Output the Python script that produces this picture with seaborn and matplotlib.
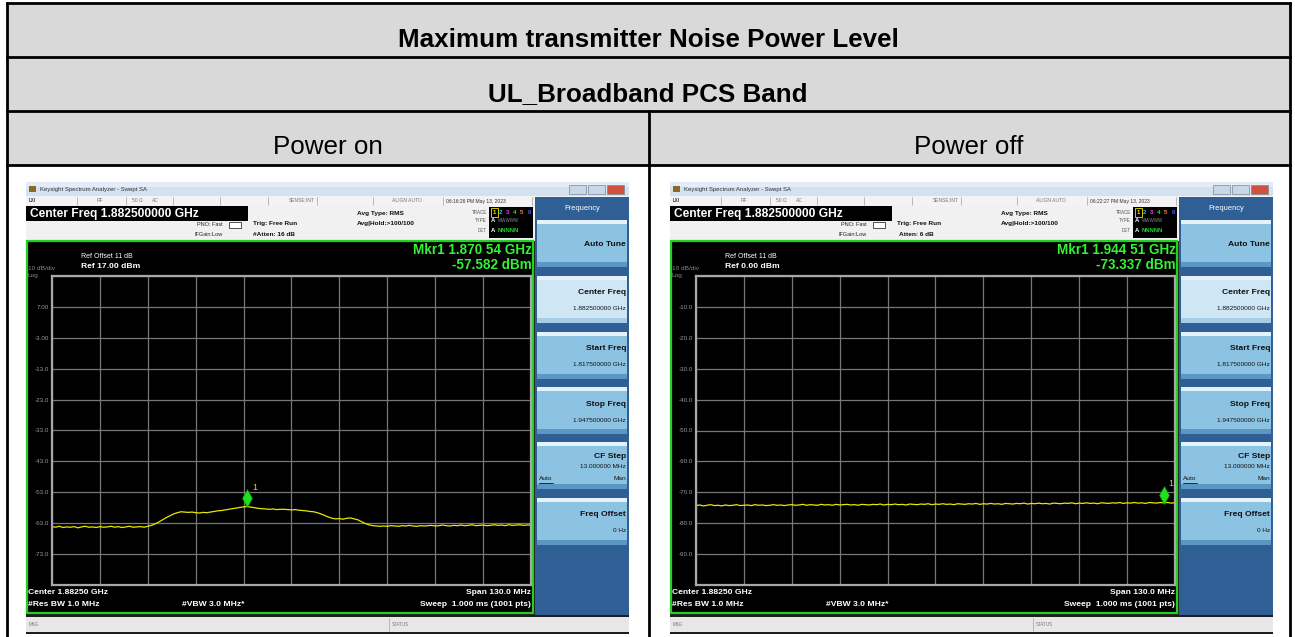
import numpy as np
import matplotlib
matplotlib.use("Agg")
import matplotlib.pyplot as plt
from matplotlib.patches import Rectangle
import seaborn as sns

# ---------------- data ----------------
TABLE_TITLE = "Maximum transmitter Noise Power Level"
BAND_TITLE = "UL_Broadband PCS Band"
COLUMN_LABELS = ["Power on", "Power off"]

START_GHZ = 1.8175
STOP_GHZ = 1.9475
N_TRACE = 131

POWER_ON_DBM = [
    -64.1, -64.3, -64.0, -64.4, -64.2, -64.3, -64.1, -64.5, -64.2, -64.0, -64.3, -64.2, -64.4,
    -64.1, -64.3, -64.2, -64.0, -64.3, -64.1, -64.4, -64.2, -64.0, -64.3, -64.2, -64.1, -64.3,
    -64.0, -63.7, -63.2, -62.6, -61.9, -61.2, -60.6, -60.0, -59.6, -59.3, -59.4, -59.5, -59.4,
    -59.6, -59.7, -59.5, -59.6, -59.4, -59.2, -59.0, -58.9, -58.7, -58.5, -58.3, -58.1, -57.9,
    -57.7, -57.6, -57.8, -58.0, -58.2, -58.3, -58.4, -58.5, -58.4, -58.6, -58.5, -58.5, -58.6,
    -58.7, -58.6, -58.8, -58.9, -59.0, -59.2, -59.3, -59.6, -60.0, -60.5, -61.0, -61.4, -61.6,
    -61.5, -61.7, -61.4, -61.3, -61.6, -61.9, -62.5, -63.1, -63.5, -63.8, -63.9, -64.0, -63.9,
    -64.0, -63.8, -63.9, -64.0, -63.8, -63.9, -63.7, -63.9, -64.0, -63.8, -63.9, -63.8, -63.7,
    -63.9, -63.8, -63.6, -63.8, -63.9, -63.7, -63.8, -63.6, -63.8, -63.7, -63.5, -63.8, -63.7,
    -63.6, -63.8, -63.7, -63.5, -63.7, -63.6, -63.8, -63.5, -63.7, -63.6, -63.5, -63.7, -63.6,
    -63.6,
]

POWER_OFF_DBM = [
    -74.3, -74.1, -74.4, -74.2, -74.0, -74.3, -74.2, -74.4, -74.1, -74.3, -74.2, -74.0, -74.3,
    -74.2, -74.1, -74.3, -74.0, -74.2, -74.1, -74.3, -74.2, -74.0, -74.2, -74.1, -74.3, -74.1,
    -74.0, -74.2, -74.1, -73.9, -74.2, -74.0, -74.1, -74.2, -73.9, -74.1, -74.0, -74.2, -73.9,
    -74.1, -74.0, -73.9, -74.1, -74.0, -74.2, -73.9, -74.0, -74.1, -73.9, -74.0, -73.8, -74.1,
    -73.9, -74.0, -73.8, -74.0, -73.9, -74.1, -73.8, -73.9, -74.0, -73.8, -73.9, -73.7, -74.0,
    -73.8, -73.9, -73.7, -73.9, -73.8, -74.0, -73.7, -73.8, -73.9, -73.7, -73.8, -73.6, -73.9,
    -73.7, -73.8, -73.6, -73.8, -73.7, -73.9, -73.6, -73.7, -73.8, -73.6, -73.7, -73.5, -73.8,
    -73.6, -73.7, -73.5, -73.7, -73.6, -73.8, -73.5, -73.6, -73.7, -73.5, -73.6, -73.4, -73.7,
    -73.5, -73.6, -73.4, -73.6, -73.5, -73.7, -73.4, -73.5, -73.6, -73.4, -73.5, -73.3, -73.6,
    -73.4, -73.5, -73.3, -73.5, -73.4, -73.6, -73.3, -73.4, -73.5, -73.3, -73.4, -73.3, -73.5,
    -73.4,
]

REF_LEVELS = [17.0, 0.0]
MARKER_FREQS = [1.87054, 1.94451]
MARKER_VALUES = [-57.582, -73.337]
MARKER_LINES = [("Mkr1 1.870 54 GHz", "-57.582 dBm"), ("Mkr1 1.944 51 GHz", "-73.337 dBm")]
TIMESTAMPS = ["06:16:26 PM May 13, 2023", "06:22:27 PM May 13, 2023"]
ATTEN_TEXT = ["#Atten: 16 dB", "Atten: 6 dB"]
REF_TEXT = ["Ref 17.00 dBm", "Ref 0.00 dBm"]
Y_LABELS_ON = ["7.00", "-3.00", "-13.0", "-23.0", "-33.0", "-43.0", "-53.0", "-63.0", "-73.0"]
Y_LABELS_OFF = ["-10.0", "-20.0", "-30.0", "-40.0", "-50.0", "-60.0", "-70.0", "-80.0", "-90.0"]

SOFTKEY_LABELS = ["Auto Tune", "Center Freq", "Start Freq", "Stop Freq", "CF Step", "Freq Offset"]
SOFTKEY_VALUES = ["", "1.882500000 GHz", "1.817500000 GHz", "1.947500000 GHz", "13.000000 MHz", "0 Hz"]

# ---------------- figure ----------------
sns.set_style("white")
plt.rcParams["font.family"] = ["Liberation Sans", "DejaVu Sans"]

W, H = 1295, 637
fig = plt.figure(figsize=(W / 100, H / 100), dpi=100)
bg = fig.add_axes([0, 0, 1, 1])
bg.set_xlim(0, W)
bg.set_ylim(H, 0)
bg.axis("off")


def rect(x0, y0, x1, y1, fc, ec="none", lw=0, z=1):
    bg.add_patch(Rectangle((x0, y0), x1 - x0, y1 - y0, facecolor=fc,
                           edgecolor=ec, linewidth=lw, zorder=z))


def txt(x, y, s, px, color="black", weight="normal", ha="left", va="center", z=5, **kw):
    bg.text(x, y, s, fontsize=px * 0.72, color=color, fontweight=weight,
            ha=ha, va=va, zorder=z, **kw)


# table
rect(7, 3, 1290, 165, "#d9d9d9")
for y in (3, 57, 111, 165):
    bg.plot([7, 1290], [y, y], color="black", lw=2, zorder=3, solid_capstyle="projecting")
for x in (7, 1290):
    bg.plot([x, x], [3, H + 2], color="black", lw=2, zorder=3)
bg.plot([649, 649], [111, H + 2], color="black", lw=2, zorder=3)

txt(648, 40, TABLE_TITLE, 26, weight="bold", ha="center")
txt(648, 94, BAND_TITLE, 26, weight="bold", ha="center")
txt(328, 147, COLUMN_LABELS[0], 26, ha="center")
txt(969, 147, COLUMN_LABELS[1], 26, ha="center")

freqs = np.linspace(START_GHZ, STOP_GHZ, N_TRACE)
traces = [POWER_ON_DBM, POWER_OFF_DBM]
ylabel_sets = [Y_LABELS_ON, Y_LABELS_OFF]


def draw_screen(ox, k):
    oy = 182
    # window frame
    rect(ox, oy, ox + 603, 634, "#1e1e1e", z=1)
    # title bar
    rect(ox, oy, ox + 603, oy + 14, "#d3e1f1", z=2)
    rect(ox, oy, ox + 603, oy + 5, "#e4edf7", z=2)
    rect(ox + 3, oy + 4, ox + 10, oy + 10, "#8a6a20", z=3)
    txt(ox + 14, oy + 7.5, "Keysight Spectrum Analyzer - Swept SA", 6, color="#333333")
    for i, c in enumerate(["#c9d6e6", "#c9d6e6", "#d2503f"]):
        bx = ox + 543 + i * 19
        rect(bx, oy + 3, bx + 17, oy + 12, c, ec="#7a8a9a", lw=0.5, z=3)
    # status row
    rect(ox, oy + 14, ox + 603, oy + 24, "#f3f3f3", z=2)
    for sx in (51, 100, 147, 194, 242, 291, 347, 417, 506):
        bg.plot([ox + sx, ox + sx], [oy + 15, oy + 23], color="#b0b0b0", lw=0.6, zorder=3)
    txt(ox + 3, oy + 19, "LXI", 4.5, color="#333333", weight="bold")
    txt(ox + 71, oy + 19, "RF", 5, color="#777777")
    txt(ox + 106, oy + 19, "50 Ω", 5, color="#777777")
    txt(ox + 126, oy + 19, "AC", 5, color="#777777")
    txt(ox + 276, oy + 19, "SENSE:INT", 5, color="#777777", ha="center")
    txt(ox + 381, oy + 19, "ALIGN AUTO", 5, color="#777777", ha="center")
    txt(ox + 420, oy + 19, TIMESTAMPS[k], 5, color="#333333")
    # header panel
    rect(ox, oy + 24, ox + 509, oy + 59, "#f1f1f1", z=2)
    rect(ox, oy + 24, ox + 222, oy + 39, "black", z=3)
    txt(ox + 4, oy + 31.5, "Center Freq 1.882500000 GHz", 12, color="white", weight="bold")
    txt(ox + 197, oy + 43, "PNO: Fast", 5.5, color="#222222", ha="right")
    txt(ox + 197, oy + 52, "IFGain:Low", 5.5, color="#222222", ha="right")
    rect(ox + 203, oy + 40, ox + 215, oy + 46, "white", ec="#333333", lw=0.6, z=3)
    txt(ox + 227, oy + 42, "Trig: Free Run", 6.5, color="#111111", weight="bold")
    txt(ox + 227 if k == 0 else ox + 229, oy + 52, ATTEN_TEXT[k], 6.5, color="#111111", weight="bold")
    txt(ox + 331, oy + 31, "Avg Type: RMS", 6.5, color="#111111", weight="bold")
    txt(ox + 331, oy + 41, "Avg|Hold:>100/100", 6.5, color="#111111", weight="bold")
    for j, lab in enumerate(["TRACE", "TYPE", "DET"]):
        txt(ox + 461, oy + 30 + j * 9, lab, 4.5, color="#555555", ha="right")
    rect(ox + 463, oy + 25, ox + 507, oy + 56, "black", z=3)
    tcols = ["#e8e800", "#20d0e0", "#e040e0", "#40e040", "#f08040", "#4060ff"]
    for j, c in enumerate(tcols):
        txt(ox + 468 + j * 7, oy + 30, str(j + 1), 6, color=c, weight="bold", ha="center")
    bg.add_patch(Rectangle((ox + 464.5, oy + 25.5), 7, 9, fill=False, edgecolor="#e8e800", lw=0.6, zorder=6))
    txt(ox + 465, oy + 39, "A", 6, color="white", weight="bold")
    txt(ox + 472, oy + 39, "WWWWW", 4.5, color="#888888")
    txt(ox + 465, oy + 48, "A", 6, color="white", weight="bold")
    txt(ox + 472, oy + 48, "NNNNN", 6, color="#30d030", weight="bold")
    # display area
    rect(ox + 1, oy + 59, ox + 507, oy + 431, "black", ec="#22d022", lw=1.6, z=2)
    txt(ox + 506, oy + 68, MARKER_LINES[k][0], 13.5, color="#36f036", weight="bold", ha="right")
    txt(ox + 506, oy + 83, MARKER_LINES[k][1], 13.5, color="#36f036", weight="bold", ha="right")
    txt(ox + 55, oy + 74, "Ref Offset 11 dB", 7, color="white")
    txt(ox + 55, oy + 85, REF_TEXT[k], 8.5, color="white", weight="bold")
    txt(ox + 2, oy + 86, "10 dB/div", 6.5, color="#8a8a8a")
    txt(ox + 2, oy + 93, "Log", 6.5, color="#8a8a8a")
    txt(ox + 2, oy + 411, "Center 1.88250 GHz", 8.5, color="white", weight="bold")
    txt(ox + 2, oy + 423, "#Res BW 1.0 MHz", 8.5, color="white", weight="bold")
    txt(ox + 156, oy + 423, "#VBW 3.0 MHz*", 8.5, color="white", weight="bold")
    txt(ox + 505, oy + 411, "Span 130.0 MHz", 8.5, color="white", weight="bold", ha="right")
    txt(ox + 505, oy + 423, "Sweep  1.000 ms (1001 pts)", 8.5, color="white", weight="bold", ha="right")
    # softkey panel
    rect(ox + 509, oy + 15, ox + 603, oy + 433, "#2f5f95", z=2)
    txt(ox + 556, oy + 27, "Frequency", 7.5, color="white", ha="center")
    tops = [220, 276, 332, 387, 442, 498]
    for j, t in enumerate(tops):
        top = t
        fc = "#cfe6f5" if j == 1 else "#8cc3e3"
        rect(ox + 511, top, ox + 601, top + 47, fc, z=3)
        rect(ox + 511, top, ox + 601, top + 4, "#e6f2fa", z=3)
        rect(ox + 511, top + 42, ox + 601, top + 47, "#5c97c4" if j != 1 else "#a6cce6", z=3)
        if j == 0:
            txt(ox + 600, top + 24, SOFTKEY_LABELS[j], 8.5, color="#111111", weight="bold", ha="right")
        elif j == 4:
            txt(ox + 600, top + 14, SOFTKEY_LABELS[j], 8.5, color="#111111", weight="bold", ha="right")
            txt(ox + 600, top + 25, SOFTKEY_VALUES[j], 6.5, color="#111111", ha="right")
            txt(ox + 600, top + 37, "Man", 6.5, color="#111111", ha="right")
            txt(ox + 513, top + 37, "Auto", 6.5, color="#111111")
            bg.plot([ox + 513, ox + 527], [top + 41, top + 41], color="#111111", lw=0.6, zorder=6)
        else:
            txt(ox + 600, top + 17, SOFTKEY_LABELS[j], 8.5, color="#111111", weight="bold", ha="right")
            txt(ox + 600, top + 33, SOFTKEY_VALUES[j], 6.5, color="#111111", ha="right")
    # message bar
    rect(ox, oy + 435, ox + 603, oy + 450, "#e8e6e8", z=2)
    bg.plot([ox + 363, ox + 363], [oy + 436, oy + 449], color="#b0b0b0", lw=0.6, zorder=3)
    txt(ox + 3, oy + 443, "MSG", 4.5, color="#777777")
    txt(ox + 366, oy + 443, "STATUS", 4.5, color="#777777")

    # trace axes (pixel box)
    gx0, gx1, gy0, gy1 = ox + 26, ox + 505, 276, 585
    ax = fig.add_axes([gx0 / W, 1 - gy1 / H, (gx1 - gx0) / W, (gy1 - gy0) / H])
    ax.set_facecolor("black")
    ref = REF_LEVELS[k]
    sns.lineplot(x=freqs, y=traces[k], ax=ax, color="#e8e800", linewidth=0.9)
    ax.set_xlim(START_GHZ, STOP_GHZ)
    ax.set_ylim(ref - 100, ref)
    ax.set_xticks(np.linspace(START_GHZ, STOP_GHZ, 11))
    yt = ref - 10 * np.arange(11)
    ax.set_yticks(yt)
    ax.set_yticklabels([""] + ylabel_sets[k] + [""])
    ax.set_xticklabels([])
    ax.tick_params(length=0, pad=2, labelsize=4.5, labelcolor="#9a9a9a")
    ax.grid(True, color="#777777", linewidth=0.9)
    for s in ax.spines.values():
        s.set_color("#a8a8a8")
        s.set_linewidth(1.6)
    ax.set_xlabel("")
    ax.set_ylabel("")
    mf, mv = MARKER_FREQS[k], MARKER_VALUES[k]
    ax.plot([mf], [mv + 2.6], marker="d", markersize=9, color="#1ee01e",
            markeredgecolor="#0a8a0a", markeredgewidth=0.4, zorder=5)
    ax.text(mf + 0.0012, mv + 5.3, "1", color="#d8d820", fontsize=6.5, zorder=6)
    ax.set_zorder(4)


draw_screen(26, 0)
draw_screen(670, 1)

fig.savefig("out.png", dpi=100)
